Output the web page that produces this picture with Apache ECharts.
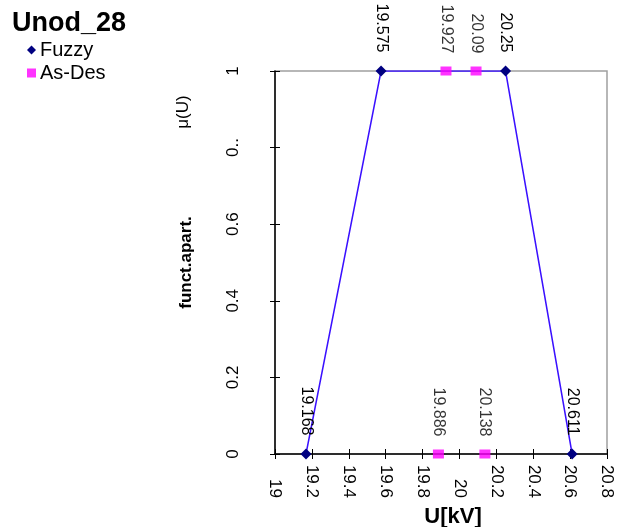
<!DOCTYPE html>
<html>
<head>
<meta charset="utf-8">
<script src="https://cdn.jsdelivr.net/npm/echarts@6/dist/echarts.min.js"></script>
<style>
  html, body { margin: 0; padding: 0; background: #fff; }
  #chart { width: 617px; height: 527px; }
</style>
</head>
<body>
<div id="chart"></div>
<script>
// values
var fuzzyX = [19.168, 19.575, 20.25, 20.611]
var fuzzyY = [0, 1, 1, 0]
var asDesX = [19.886, 19.927, 20.09, 20.138]
var asDesY = [0, 1, 1, 0]
var xTicks = { min: 19, max: 20.8, step: 0.2 }
var yTicks = { min: 0, max: 1, step: 0.2 }

var font = 'Liberation Sans'

function pairs(xs, ys) {
  return xs.map(function (x, i) { return [x, ys[i]] })
}

var pointLabel = {
  show: true,
  position: 'top',
  distance: 13,
  rotate: -90,
  align: 'right',
  verticalAlign: 'middle',
  fontFamily: font,
  fontSize: 16,
  color: '#000',
  formatter: function (p) { return String(p.value[0]) }
}

var chart = echarts.init(document.getElementById('chart'))
chart.setOption({
  animation: false,
  title: {
    text: 'Unod_28',
    left: 7,
    top: 5,
    textStyle: { fontFamily: font, fontWeight: 'bold', fontSize: 27, color: '#000' }
  },
  legend: {
    orient: 'vertical',
    left: 22,
    top: 35,
    itemWidth: 9,
    itemHeight: 9,
    itemGap: 3,
    itemStyle: { borderWidth: 0 },
    data: [
      { name: 'Fuzzy', icon: 'diamond' },
      { name: 'As-Des', icon: 'rect' }
    ],
    textStyle: { fontFamily: font, fontSize: 20, color: '#000', padding: [0, 0, 0, -1] }
  },
  graphic: [
    {
      type: 'text',
      x: 183,
      y: 112,
      rotation: Math.PI / 2,
      style: { text: 'μ(U)', font: '17px ' + font, fill: '#000', align: 'center', verticalAlign: 'middle' }
    }
  ],
  grid: {
    left: 275,
    right: 10,
    top: 71,
    bottom: 73,
    outerBoundsMode: 'none',
    show: true,
    borderColor: '#a0a0a0',
    borderWidth: 1.5
  },
  xAxis: [
    {
      type: 'value',
      min: xTicks.min,
      max: xTicks.max,
      interval: xTicks.step,
      name: 'U[kV]',
      nameLocation: 'middle',
      nameGap: 46,
      nameTextStyle: { fontFamily: font, fontWeight: 'bold', fontSize: 22, color: '#000', padding: [0, 0, 0, 24] },
      axisLine: { onZero: false, lineStyle: { color: '#000', width: 1.5 } },
      axisTick: { show: true, length: 5, lineStyle: { color: '#000' } },
      axisLabel: {
        rotate: -90,
        align: 'right',
        margin: 44,
        fontFamily: font,
        fontSize: 17,
        color: '#000'
      },
      splitLine: { show: false }
    },
    {
      type: 'value',
      position: 'bottom',
      min: xTicks.min,
      max: xTicks.max,
      interval: xTicks.step,
      axisLine: { show: false, onZero: false },
      axisTick: { show: true, inside: true, length: 5, lineStyle: { color: '#000' } },
      axisLabel: { show: false },
      splitLine: { show: false }
    }
  ],
  yAxis: [
    {
      type: 'value',
      min: yTicks.min,
      max: yTicks.max,
      interval: yTicks.step,
      name: 'funct.apart.',
      nameLocation: 'middle',
      nameRotate: 90,
      nameGap: 80,
      nameTextStyle: { fontFamily: font, fontWeight: 'bold', fontSize: 17, color: '#000' },
      axisLine: { show: true, lineStyle: { color: '#000', width: 1.5 } },
      axisTick: { show: true, length: 5, lineStyle: { color: '#000' } },
      axisLabel: {
        rotate: 90,
        margin: 33,
        fontFamily: font,
        fontSize: 17,
        color: '#000',
        formatter: function (v) { return v === 0.8 ? '0..' : String(v) }
      },
      splitLine: { show: false }
    },
    {
      type: 'value',
      position: 'left',
      min: yTicks.min,
      max: yTicks.max,
      interval: yTicks.step,
      axisLine: { show: false },
      axisTick: { show: true, inside: true, length: 5, lineStyle: { color: '#000' } },
      axisLabel: { show: false },
      splitLine: { show: false }
    }
  ],
  series: [
    {
      name: 'Fuzzy',
      type: 'line',
      data: pairs(fuzzyX, fuzzyY),
      symbol: 'diamond',
      symbolSize: 11,
      lineStyle: { color: '#3a10ff', width: 1.5 },
      itemStyle: { color: '#000080' },
      label: pointLabel,
      z: 3
    },
    {
      name: 'As-Des',
      type: 'scatter',
      data: pairs(asDesX, asDesY),
      symbol: 'rect',
      symbolSize: [11, 9],
      itemStyle: { color: '#ff00ff' },
      label: pointLabel,
      z: 4
    }
  ]
})
</script>
</body>
</html>
